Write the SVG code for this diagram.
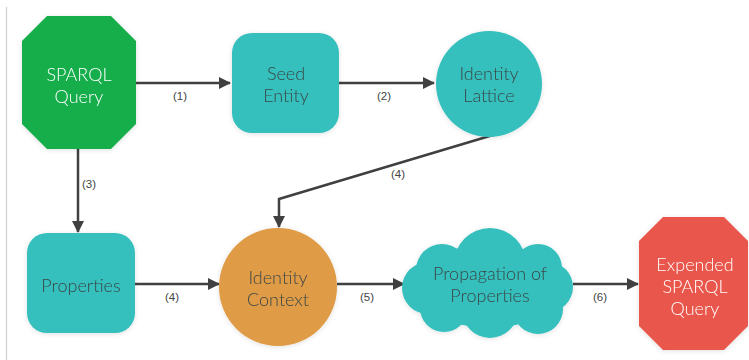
<svg xmlns="http://www.w3.org/2000/svg" width="749" height="360" viewBox="0 0 749 360">
  <style>
    .lbl { font-family: Lato, "Open Sans", sans-serif; font-size: 18px; font-weight: 300; text-anchor: middle; }
    .dark { fill: #3b4848; }
    .light { fill: #ffffff; }
    .num { font-family: "Liberation Sans", Arial, sans-serif; font-size: 11.5px; fill: #444444; text-anchor: middle; }
    .edge { fill: none; stroke: #404040; stroke-width: 2.5; }
  </style>
  <defs>
    <marker id="arrow" viewBox="0 0 12 12" refX="11" refY="6" markerWidth="12" markerHeight="12" markerUnits="userSpaceOnUse" orient="auto">
      <path d="M0,0 L12,6 L0,12 Z" fill="#404040"/>
    </marker>
    <filter id="shadow" x="-20%" y="-20%" width="140%" height="140%">
      <feDropShadow dx="0" dy="1" stdDeviation="2.5" flood-color="#000" flood-opacity="0.12"/>
    </filter>
  </defs>

  <rect width="749" height="360" fill="#ffffff"/>
  <line x1="6.5" y1="7" x2="6.5" y2="360" stroke="#cfcfcf" stroke-width="1.2"/>

  <!-- connectors -->
  <g id="connectors">
    <line class="edge" x1="136" y1="83" x2="230" y2="83" marker-end="url(#arrow)"/>
    <line class="edge" x1="339" y1="83" x2="434" y2="83" marker-end="url(#arrow)"/>
    <line class="edge" x1="78" y1="149" x2="78" y2="232" marker-end="url(#arrow)"/>
    <polyline class="edge" points="493,135 279,199 279,227" marker-end="url(#arrow)"/>
    <line class="edge" x1="135" y1="284" x2="219" y2="284" marker-end="url(#arrow)"/>
    <line class="edge" x1="337" y1="284" x2="404" y2="284" marker-end="url(#arrow)"/>
    <line class="edge" x1="573" y1="284" x2="638" y2="284" marker-end="url(#arrow)"/>
    <text class="num" x="180" y="100">(1)</text>
    <text class="num" x="384" y="100">(2)</text>
    <text class="num" x="89" y="188">(3)</text>
    <text class="num" x="398" y="178">(4)</text>
    <text class="num" x="172" y="301">(4)</text>
    <text class="num" x="367" y="301">(5)</text>
    <text class="num" x="600" y="301">(6)</text>
  </g>

  <!-- nodes -->
  <g id="sparql-query" filter="url(#shadow)">
    <polygon points="47,16 111,16 136,41 136,124 111,149 47,149 22,124 22,41" fill="#12ad4b"/>
    <text class="lbl light" x="79" y="81">SPARQL</text>
    <text class="lbl light" x="79" y="103">Query</text>
  </g>

  <g id="seed-entity" filter="url(#shadow)">
    <rect x="232" y="33" width="107" height="100" rx="20" fill="#34bfbd"/>
    <text class="lbl dark" x="286" y="80">Seed</text>
    <text class="lbl dark" x="286" y="102">Entity</text>
  </g>

  <g id="identity-lattice" filter="url(#shadow)">
    <circle cx="489" cy="84" r="53" fill="#34bfbd"/>
    <text class="lbl dark" x="489" y="80">Identity</text>
    <text class="lbl dark" x="489" y="102">Lattice</text>
  </g>

  <g id="properties" filter="url(#shadow)">
    <rect x="27" y="233" width="108" height="100" rx="20" fill="#34bfbd"/>
    <text class="lbl dark" x="81" y="292">Properties</text>
  </g>

  <g id="identity-context" filter="url(#shadow)">
    <circle cx="278" cy="287" r="59" fill="#df9b45"/>
    <text class="lbl dark" x="278" y="284">Identity</text>
    <text class="lbl dark" x="278" y="306">Context</text>
  </g>

  <g id="propagation-of-properties" filter="url(#shadow)">
    <g fill="#34bfbd">
      <ellipse cx="489" cy="286" rx="72" ry="42"/>
      <circle cx="490" cy="264" r="36"/>
      <circle cx="442" cy="270" r="26"/>
      <circle cx="538" cy="268" r="24"/>
      <circle cx="428" cy="288" r="26"/>
      <circle cx="548" cy="287" r="25"/>
      <circle cx="444" cy="308" r="24"/>
      <circle cx="490" cy="310" r="28"/>
      <circle cx="538" cy="309" r="25"/>
    </g>
    <text class="lbl dark" x="490" y="280">Propagation of</text>
    <text class="lbl dark" x="490" y="302">Properties</text>
  </g>

  <g id="expended-sparql-query" filter="url(#shadow)">
    <polygon points="663,217 724,217 748,241 748,326 724,350 663,350 639,326 639,241" fill="#e9564b"/>
    <text class="lbl light" x="695" y="271">Expended</text>
    <text class="lbl light" x="695" y="293">SPARQL</text>
    <text class="lbl light" x="695" y="315">Query</text>
  </g>
</svg>
